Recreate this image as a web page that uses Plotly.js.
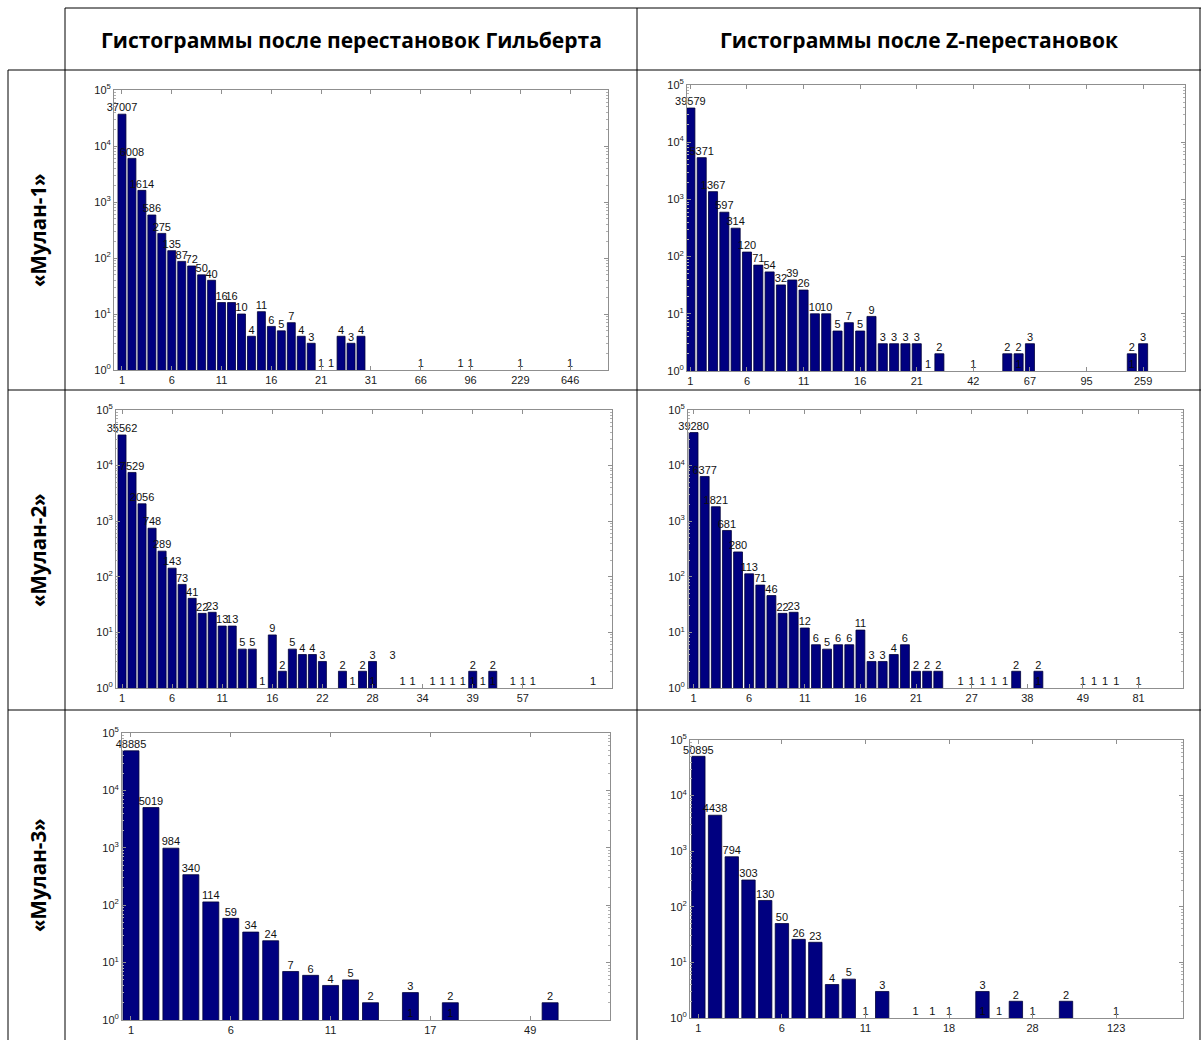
<!DOCTYPE html>
<html><head><meta charset="utf-8">
<script src="https://cdn.plot.ly/plotly-3.0.1.min.js"></script>
<style>html,body{margin:0;padding:0;background:#fff;}#chart{width:1201px;height:1040px;}</style>
</head><body><div id="chart"></div>
<script>
const colTitles = ['Гистограммы после перестановок Гильберта', 'Гистограммы после Z-перестановок'];
const rowTitles = ['«Мулан-1»', '«Мулан-2»', '«Мулан-3»'];

// Мулан-1, Гильберт
const h1Pos = [1,2,3,4,5,6,7,8,9,10,11,12,13,14,15,16,17,18,19,20,21,22,23,24,25,31,35,36,41,46];
const h1Val = [37007,6008,1614,586,275,135,87,72,50,40,16,16,10,4,11,6,5,7,4,3,1,1,4,3,4,1,1,1,1,1];
const h1TickPos = [1,6,11,16,21,26,31,36,41,46];
const h1TickLab = ['1','6','11','16','21','31','66','96','229','646'];
const h1Ones = [];
const h1Hidden = [];

// Мулан-1, Z
const z1Pos = [1,2,3,4,5,6,7,8,9,10,11,12,13,14,15,16,17,18,19,20,21,22,23,26,29,30,31,40,41];
const z1Val = [39579,5371,1367,597,314,120,71,54,32,39,26,10,10,5,7,5,9,3,3,3,3,1,2,1,2,2,3,2,3];
const z1TickPos = [1,6,11,16,21,26,31,36,41];
const z1TickLab = ['1','6','11','16','21','42','67','95','259'];
const z1Ones = [30,40];
const z1Hidden = [];

// Мулан-2, Гильберт
const h2Pos = [1,2,3,4,5,6,7,8,9,10,11,12,13,14,15,16,17,18,19,20,21,23,24,25,26,28,29,30,32,33,34,35,36,37,38,40,41,42,48];
const h2Val = [35562,7529,2056,748,289,143,73,41,22,23,13,13,5,5,1,9,2,5,4,4,3,2,1,2,3,3,1,1,1,1,1,1,2,1,2,1,1,1,1];
const h2TickPos = [1,6,11,16,21,26,31,36,41];
const h2TickLab = ['1','6','11','16','22','28','34','39','57'];
const h2Ones = [26,36,38];
const h2Hidden = [28];

// Мулан-2, Z
const z2Pos = [1,2,3,4,5,6,7,8,9,10,11,12,13,14,15,16,17,18,19,20,21,22,23,25,26,27,28,29,30,32,36,37,38,39,41];
const z2Val = [39280,6377,1821,681,280,113,71,46,22,23,12,6,5,6,6,11,3,3,4,6,2,2,2,1,1,1,1,1,2,2,1,1,1,1,1];
const z2TickPos = [1,6,11,16,21,26,31,36,41];
const z2TickLab = ['1','6','11','16','21','27','38','49','81'];
const z2Ones = [32];
const z2Hidden = [];

// Мулан-3, Гильберт
const h3Pos = [1,2,3,4,5,6,7,8,9,10,11,12,13,15,17,22];
const h3Val = [48885,5019,984,340,114,59,34,24,7,6,4,5,2,3,2,2];
const h3TickPos = [1,6,11,16,21];
const h3TickLab = ['1','6','11','17','49'];
const h3Ones = [15,17];
const h3Hidden = [];

// Мулан-3, Z
const z3Pos = [1,2,3,4,5,6,7,8,9,10,11,12,14,15,16,18,19,20,21,23,26];
const z3Val = [50895,4438,794,303,130,50,26,23,4,5,1,3,1,1,1,3,1,2,1,2,1];
const z3TickPos = [1,6,11,16,21,26];
const z3TickLab = ['1','6','11','18','28','123'];
const z3Ones = [18];
const z3Hidden = [];

const W = 1201, H = 1040;
const px = v => v / W;
const py = v => 1 - v / H;

const panels = [
  {pos:h1Pos, val:h1Val, tp:h1TickPos, tl:h1TickLab, ones:h1Ones, hid:h1Hidden, box:[114,608,90,370], xr:[0.2,49.8]},
  {pos:z1Pos, val:z1Val, tp:z1TickPos, tl:z1TickLab, ones:z1Ones, hid:z1Hidden, box:[687,1185,85,371], xr:[0.7,44.7]},
  {pos:h2Pos, val:h2Val, tp:h2TickPos, tl:h2TickLab, ones:h2Ones, hid:h2Hidden, box:[116,612,410,688], xr:[0.4,49.9]},
  {pos:z2Pos, val:z2Val, tp:z2TickPos, tl:z2TickLab, ones:z2Ones, hid:z2Hidden, box:[688,1183,410,688], xr:[0.5,45]},
  {pos:h3Pos, val:h3Val, tp:h3TickPos, tl:h3TickLab, ones:h3Ones, hid:h3Hidden, box:[122,610,733,1020], xr:[0.55,25]},
  {pos:z3Pos, val:z3Val, tp:z3TickPos, tl:z3TickLab, ones:z3Ones, hid:z3Hidden, box:[690,1183,740,1018], xr:[0.5,30]}
];

const decades = [0,1,2,3,4,5];
const yTickVals = decades.map(d => Math.pow(10, d));
const yTickText = decades.map(d => '10<sup>' + d + '</sup>');
const yMinor = [];
for (let d = 0; d < 5; d++) for (let m = 2; m <= 9; m++) yMinor.push(m * Math.pow(10, d));

const FONT = 'Liberation Sans, Arial, sans-serif';
const AX_COL = '#8f8f8f';
const BAR_COL = '#000080';

const data = [];
const layout = {
  width: W, height: H,
  margin: {l:0, r:0, t:0, b:0},
  paper_bgcolor: '#fff', plot_bgcolor: '#fff',
  showlegend: false,
  font: {family: FONT, size: 11, color: '#111'},
  annotations: [], shapes: []
};

panels.forEach((p, i) => {
  const n = i + 1;
  const xs = n === 1 ? 'x' : 'x' + n;
  const ys = n === 1 ? 'y' : 'y' + n;
  const [l, r, t, b] = p.box;
  layout[n === 1 ? 'xaxis' : 'xaxis' + n] = {
    domain: [px(l), px(r)], anchor: ys, range: p.xr,
    tickmode: 'array', tickvals: p.tp, ticktext: p.tl,
    ticks: 'inside', ticklen: 4, tickcolor: AX_COL, tickwidth: 1,
    showline: true, linecolor: AX_COL, linewidth: 1, mirror: 'ticks',
    showgrid: false, zeroline: false, fixedrange: true,
    tickfont: {family: FONT, size: 11, color: '#1a1a1a'}
  };
  layout[n === 1 ? 'yaxis' : 'yaxis' + n] = {
    domain: [py(b), py(t)], anchor: xs, type: 'log', range: [0, 5],
    tickmode: 'array', tickvals: yTickVals, ticktext: yTickText,
    ticks: 'inside', ticklen: 4, tickcolor: AX_COL, tickwidth: 1,
    minor: {ticks: 'inside', ticklen: 2, tickcolor: '#b0b0b0', tickmode: 'array', tickvals: yMinor, showgrid: false},
    showline: true, linecolor: AX_COL, linewidth: 1, mirror: 'ticks',
    showgrid: false, zeroline: false, fixedrange: true,
    tickfont: {family: FONT, size: 11, color: '#1a1a1a'}
  };
  const invisible = p.pos.map((v, k) => p.hid.includes(v) || p.val[k] <= 1);
  data.push({
    type: 'bar', x: p.pos, y: p.val, xaxis: xs, yaxis: ys, width: 0.8,
    marker: {
      color: p.pos.map(v => p.hid.includes(v) ? 'rgba(0,0,0,0)' : BAR_COL),
      line: {color: '#00003a', width: invisible.map(h => h ? 0 : 0.8)}
    },
    hoverinfo: 'x+y'
  });
  // value labels above each bar
  data.push({
    type: 'scatter', mode: 'text', x: p.pos, y: p.val,
    text: p.val.map(String), textposition: 'top center',
    textfont: {family: FONT, size: 11, color: '#111'},
    xaxis: xs, yaxis: ys, cliponaxis: false, hoverinfo: 'skip'
  });
  if (p.ones.length) {
    data.push({
      type: 'scatter', mode: 'text', x: p.ones, y: p.ones.map(() => 1),
      text: p.ones.map(() => '1'), textposition: 'top center',
      textfont: {family: FONT, size: 11, color: '#0a0a0a'},
      xaxis: xs, yaxis: ys, cliponaxis: false, hoverinfo: 'skip'
    });
  }
});

// table lines
const line = (x0, y0, x1, y1) => ({type:'line', xref:'paper', yref:'paper',
  x0: px(x0), y0: py(y0), x1: px(x1), y1: py(y1), line: {color:'#000', width:1}});
layout.shapes.push(
  line(65, 8, 1201, 8),
  line(8, 70, 8, 1040),
  line(65, 8, 65, 1040),
  line(637, 8, 637, 1040),
  line(1200, 8, 1200, 1040),
  line(8, 70, 1201, 70),
  line(8, 390, 1201, 390),
  line(8, 710, 1201, 710)
);

const colCenters = [351, 919];
colTitles.forEach((t, i) => layout.annotations.push({
  xref:'paper', yref:'paper', x: px(colCenters[i]), y: py(40), xanchor:'center', yanchor:'middle',
  text: '<b>' + t + '</b>', showarrow: false,
  font: {family: 'Open Sans, Noto Sans, sans-serif', size: 21, color: '#000'}
}));
const rowCenters = [230, 550, 875];
rowTitles.forEach((t, i) => layout.annotations.push({
  xref:'paper', yref:'paper', x: px(38), y: py(rowCenters[i]), xanchor:'center', yanchor:'middle',
  text: '<b>' + t + '</b>', showarrow: false, textangle: -90,
  font: {family: 'Open Sans, Noto Sans, sans-serif', size: 20.5, color: '#000'}
}));

Plotly.newPlot('chart', data, layout, {displayModeBar: false, staticPlot: true});
</script></body></html>
